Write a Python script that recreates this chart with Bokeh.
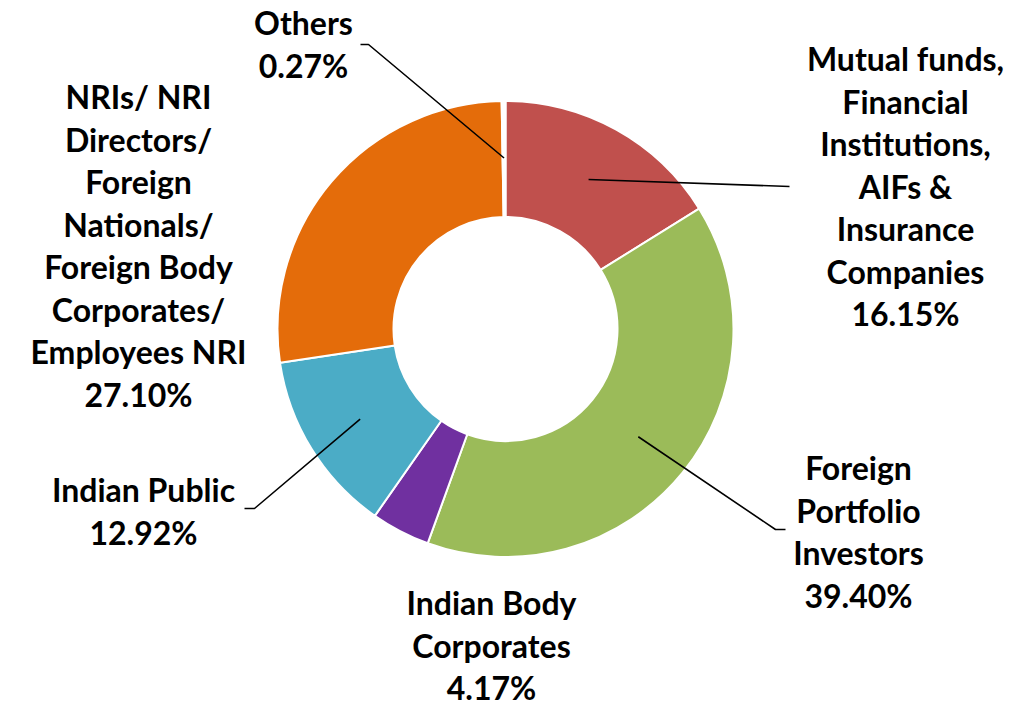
import math
from bokeh.plotting import figure
from bokeh.models import Range1d, ColumnDataSource
from bokeh.core.properties import value
from bokeh.embed import file_html
from bokeh.resources import INLINE

# ---- data ----
categories = [
    "Mutual funds, Financial Institutions, AIFs & Insurance Companies",
    "Foreign Portfolio Investors",
    "Indian Body Corporates",
    "Indian Public",
    "NRIs/ NRI Directors/ Foreign Nationals/ Foreign Body Corporates/ Employees NRI",
    "Others",
]
shares = [16.15, 39.40, 4.17, 12.92, 27.10, 0.27]
colors = ["#C0504D", "#9BBB59", "#7030A0", "#4BACC6", "#E46C0A", "#FFFFFF"]
label_lines = [
    ["Mutual funds,", "Financial", "Institutions,", "AIFs &", "Insurance", "Companies"],
    ["Foreign", "Portfolio", "Investors"],
    ["Indian Body", "Corporates"],
    ["Indian Public"],
    ["NRIs/ NRI", "Directors/", "Foreign", "Nationals/", "Foreign Body", "Corporates/", "Employees NRI"],
    ["Others"],
]

# ---- layout (pixel space, y measured from top) ----
W, H = 1010, 706
CX, CY = 505, 328.5
R_OUT, R_IN = 228, 112
LINE_H = 42.5
# label block: (center x, first line center y)
label_pos = [(905, 58), (858, 467), (491, 602), (143, 489), (138, 96), (303, 22)]
# leader: None or list of extra points after the slice anchor (pixel coords)
leaders = [
    [(789, 186)],
    [(775, 529), (785, 529)],
    None,
    [(254, 508), (244, 508)],
    None,
    [(368, 44), (360, 44)],
]
LEADER_R = 171

def fy(y):
    return H - y

p = figure(width=W, height=H, output_backend="svg", toolbar_location=None,
           x_range=Range1d(0, W), y_range=Range1d(0, H), min_border=0)
p.axis.visible = False
p.grid.visible = False
p.outline_line_color = None
p.background_fill_color = "white"

total = sum(shares)
starts, ends, mids = [], [], []
cum = 0.0
for v in shares:
    a0 = math.pi / 2 - 2 * math.pi * cum / total
    cum += v
    a1 = math.pi / 2 - 2 * math.pi * cum / total
    starts.append(a0)
    ends.append(a1)
    mids.append((a0 + a1) / 2)

src = ColumnDataSource(dict(x=[CX] * len(shares), y=[fy(CY)] * len(shares),
                            start=starts, end=ends, color=colors, cat=categories))
p.annular_wedge(x="x", y="y", inner_radius=R_IN, outer_radius=R_OUT,
                start_angle="start", end_angle="end", direction="clock",
                fill_color="color", line_color="white", line_width=2, source=src)

# leader lines
for i, pts in enumerate(leaders):
    if not pts:
        continue
    ax = CX + LEADER_R * math.cos(mids[i])
    ay = fy(CY) + LEADER_R * math.sin(mids[i])
    xs = [ax] + [q[0] for q in pts]
    ys = [ay] + [fy(q[1]) for q in pts]
    p.line(xs, ys, line_color="black", line_width=1.6)

# labels
tx, ty, tt = [], [], []
for i, lines in enumerate(label_lines):
    x0, y0 = label_pos[i]
    all_lines = lines + [f"{shares[i]:.2f}%"]
    for k, t in enumerate(all_lines):
        tx.append(x0)
        ty.append(fy(y0 + k * LINE_H))
        tt.append(t)
p.text(x=tx, y=ty, text=tt, text_align="center", text_baseline="middle",
       text_font=value("Lato"), text_font_style="bold", text_font_size="32px",
       text_color="black")

open("out.html", "w").write(file_html(p, INLINE))
